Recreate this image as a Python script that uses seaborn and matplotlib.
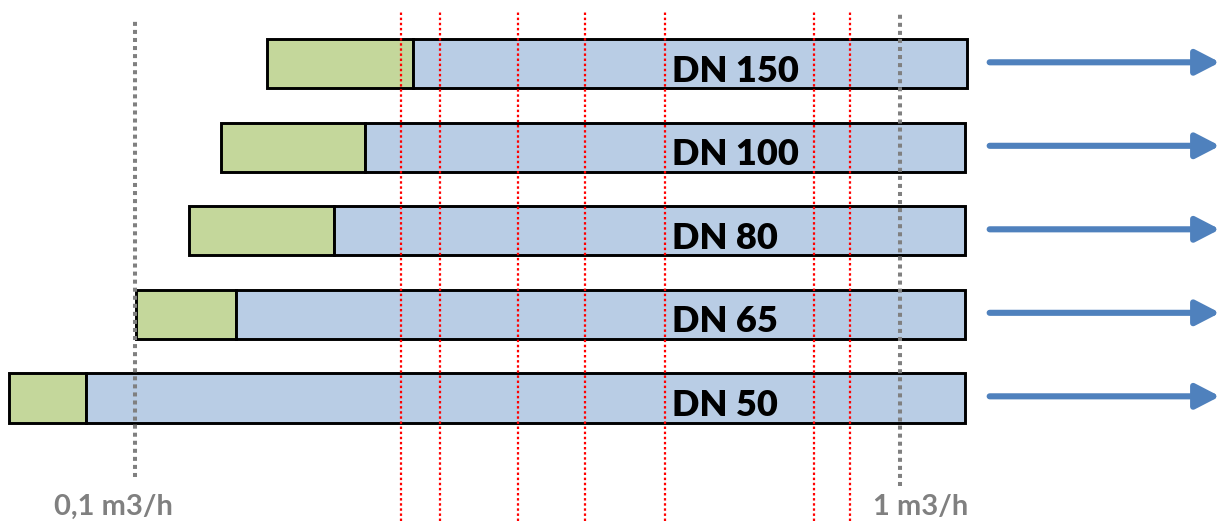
import matplotlib
matplotlib.use("Agg")
import matplotlib.pyplot as plt
import numpy as np
import pandas as pd
import seaborn as sns

# flow ranges per nominal size (m3/h, log axis)
sizes = ["DN 150", "DN 100", "DN 80", "DN 65", "DN 50"]
q_min = [0.149, 0.1295, 0.1176, 0.1003, 0.0684]
q_trans = [0.231, 0.200, 0.182, 0.1355, 0.0863]
q_max = [1.224, 1.217, 1.217, 1.217, 1.217]

ref_flows = [0.1, 1.0]
ref_labels = ["0,1 m3/h", "1 m3/h"]
marker_flows = [0.2227, 0.2505, 0.3167, 0.3874, 0.493, 0.772, 0.860]

arrow_from = 1.31
arrow_to = 2.62
label_flow = 0.503

GREEN = "#c4d79b"
BLUE = "#b9cde5"
ARROW = "#4f81bd"
GREY = "#808080"


def main():
    sns.set_theme(style="white")
    plt.rcParams["font.family"] = ["Lato", "DejaVu Sans"]

    d = pd.DataFrame({"size": sizes, "lo": q_min, "mid": q_trans, "hi": q_max})
    d["pos"] = np.arange(len(d))

    fig = plt.figure(figsize=(12.3, 5.21), dpi=100)
    ax = fig.add_axes([0, 0, 1, 1])
    ax.set_xscale("log")
    ax.set_xlim(0.06661, 2.7007)
    ax.set_ylim(5.473, -0.766)
    ax.axis("off")

    h = 0.587
    ax.barh(d["pos"], d["mid"] - d["lo"], left=d["lo"], height=h,
            color=GREEN, edgecolor="black", linewidth=2.1, zorder=2)
    ax.barh(d["pos"], d["hi"] - d["mid"], left=d["mid"], height=h,
            color=BLUE, edgecolor="black", linewidth=2.1, zorder=2)

    for x in marker_flows:
        ax.axvline(x, ymin=0, ymax=1 - 12 / 521, color="#ff0000", lw=1.6,
                   ls=(0, (1.1, 1.2)), zorder=3)

    spans = [(1 - 477 / 521, 1 - 20 / 521), (1 - 486 / 521, 1 - 12 / 521)]
    offsets = [-22, 21]
    for x, lbl, (y0, y1), dx in zip(ref_flows, ref_labels, spans, offsets):
        ax.axvline(x, ymin=y0, ymax=y1, color=GREY, lw=2.9,
                   ls=(0, (1, 1)), zorder=3)
        ax.annotate(lbl, xy=(x, 5.40), xytext=(dx, 0), textcoords="offset pixels",
                    ha="center", va="baseline", fontsize=21, fontweight="bold",
                    color=GREY)

    for _, r in d.iterrows():
        ax.text(label_flow, r["pos"] + 0.21, r["size"], ha="left", va="baseline",
                fontsize=26, fontweight="heavy", color="black", zorder=4)
        ax.annotate("", xy=(arrow_to, r["pos"] - 0.02), xytext=(arrow_from, r["pos"] - 0.02),
                    arrowprops=dict(arrowstyle="-|>,head_length=1.45,head_width=0.75",
                                    mutation_scale=10, color=ARROW, lw=4.4,
                                    shrinkA=0, shrinkB=0))

    fig.savefig("out.png", dpi=100)
    plt.close(fig)


main()
